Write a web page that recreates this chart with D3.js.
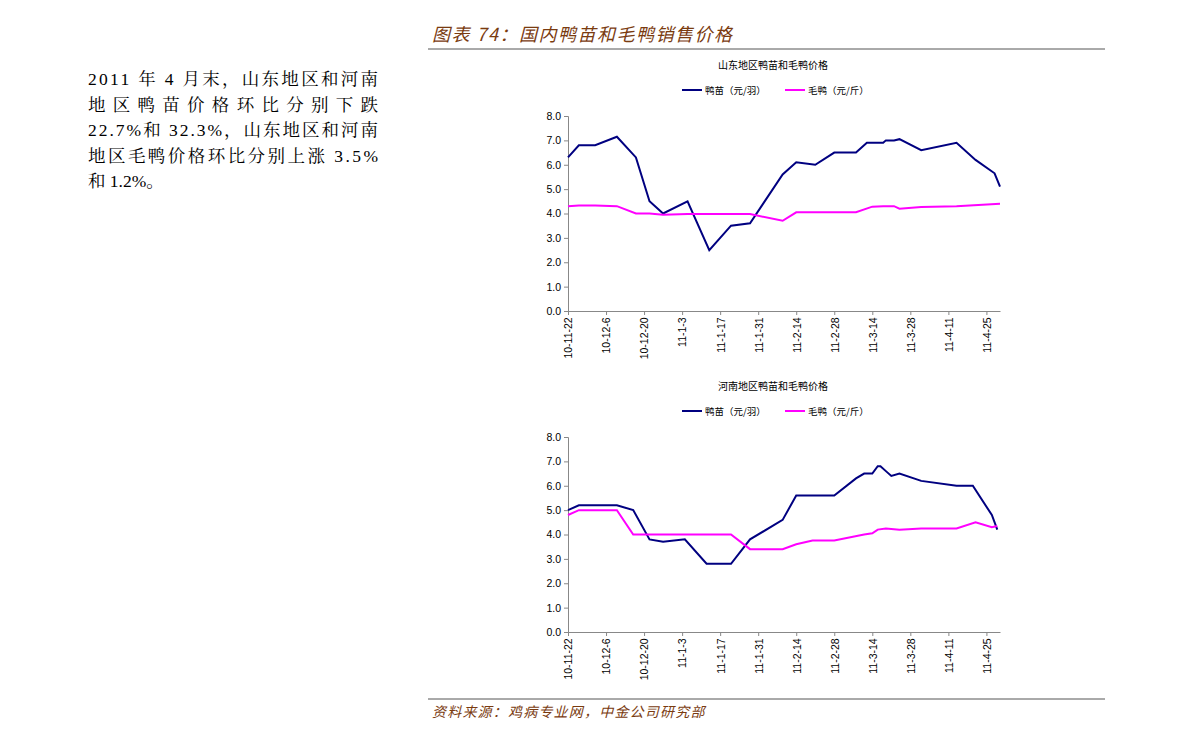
<!DOCTYPE html>
<html><head><meta charset="utf-8">
<script src="https://cdn.jsdelivr.net/npm/d3@7"></script>
<style>body{margin:0;background:#fff}</style></head>
<body><svg id="c" width="1191" height="740"></svg>
<script>
const startDate = "2010-11-22";
const tickLabels = ["10-11-22","10-12-6","10-12-20","11-1-3","11-1-17","11-1-31","11-2-14","11-2-28","11-3-14","11-3-28","11-4-11","11-4-25"];
const yTicks = [0,1,2,3,4,5,6,7,8];
const seriesNames = ["鸭苗（元/羽）","毛鸭（元/斤）"];
const chartTitles = ["山东地区鸭苗和毛鸭价格","河南地区鸭苗和毛鸭价格"];
// days since start date
const sdSeedDays = [0,4,10,18,25,30,35,44,52,60,67,79,84,91,98,106,110,116,117,120,122,130,143,150,157,159];
const sdSeedVals = [6.3,6.8,6.8,7.15,6.3,4.5,4.0,4.5,2.5,3.5,3.6,5.6,6.1,6.0,6.5,6.5,6.9,6.9,7.0,7.0,7.05,6.6,6.9,6.2,5.65,5.1];
const sdDuckDays = [0,4,10,18,25,30,35,44,67,79,84,106,112,116,120,122,130,143,151,159];
const sdDuckVals = [4.3,4.33,4.33,4.3,4.0,4.0,3.95,3.98,3.98,3.7,4.05,4.05,4.28,4.3,4.3,4.2,4.27,4.3,4.35,4.4];
const hnSeedDays = [0,4,18,24,30,35,43,51,60,67,79,84,98,106,109,112,114,115,117,119,122,130,143,149,156,158];
const hnSeedVals = [5.0,5.2,5.2,5.0,3.8,3.7,3.8,2.8,2.8,3.8,4.6,5.6,5.6,6.3,6.5,6.5,6.8,6.8,6.6,6.4,6.5,6.2,6.0,6.0,4.8,4.2];
const hnDuckDays = [0,4,18,24,60,67,79,84,90,98,109,112,114,117,122,130,143,150,156,158];
const hnDuckVals = [4.8,5.0,5.0,4.0,4.0,3.4,3.4,3.6,3.75,3.75,4.0,4.05,4.2,4.25,4.2,4.25,4.25,4.5,4.3,4.35];
const paraLines = ["2011 年 4 月末，山东地区和河南","地 区 鸭 苗 价 格 环 比 分 别 下 跌","22.7%和  32.3%，山东地区和河南","地区毛鸭价格环比分别上涨  3.5%","和 1.2%。"];

const svg = d3.select("#c");
const t0 = d3.timeParse("%Y-%m-%d")(startDate);
const toDate = n => d3.timeDay.offset(t0, n);
const brown = "#7a3b10";
svg.append("text").attr("x",432).attr("y",41).attr("fill",brown).attr("font-size",18).attr("letter-spacing",1.5)
  .attr("font-style","italic").attr("font-family","'Noto Sans CJK SC',sans-serif").text("图表 74：国内鸭苗和毛鸭销售价格");
svg.append("line").attr("x1",428).attr("x2",1105).attr("y1",49).attr("y2",49).attr("stroke","#555");
svg.append("line").attr("x1",428).attr("x2",1105).attr("y1",699).attr("y2",699).attr("stroke","#555");
svg.append("text").attr("x",432).attr("y",717).attr("fill",brown).attr("font-size",14).attr("letter-spacing",1.2)
  .attr("font-style","italic").attr("font-family","'Noto Sans CJK SC',sans-serif").text("资料来源：鸡病专业网，中金公司研究部");
paraLines.forEach((l,i)=>svg.append("text").attr("x",88).attr("y",85+i*25.5).attr("font-size",17.5)
  .attr("font-family","'Liberation Serif','Noto Serif CJK SC','Noto Sans CJK SC',serif").attr("textLength", i<4?290:null).text(l));

function chart(top, title, seed, duck){
  const x = d3.scaleTime().domain([toDate(0), toDate(159)]).range([568,1000]);
  const y = d3.scaleLinear().domain([0,8]).range([top+195, top]);
  const g = svg.append("g");
  g.append("text").attr("x",773).attr("y",top-47).attr("text-anchor","middle").attr("font-size",10)
    .attr("font-family","'Noto Sans CJK SC',sans-serif").text(title);
  const cols = ["#000080","#ff00ff"];
  [[682,705],[785,808]].forEach((p,i)=>{
    g.append("line").attr("x1",p[0]).attr("x2",p[0]+20).attr("y1",top-26).attr("y2",top-26).attr("stroke",cols[i]).attr("stroke-width",2);
    g.append("text").attr("x",p[1]).attr("y",top-22).attr("font-size",9.5).attr("font-family","'Noto Sans CJK SC',sans-serif").text(seriesNames[i]);
  });
  const ya = g.append("g").attr("transform","translate(568,0)")
    .call(d3.axisLeft(y).tickValues(yTicks).tickFormat(d3.format(".1f")).tickSize(4));
  ya.selectAll("text").attr("font-size",10.5).attr("font-family","'Liberation Sans',Arial").attr("fill","#000");
  ya.selectAll("path,line").attr("stroke","#888");
  const tv = tickLabels.map((_,i)=>toDate(i*14));
  const xa = g.append("g").attr("transform",`translate(0,${top+195})`)
    .call(d3.axisBottom(x).tickValues(tv).tickFormat((d,i)=>tickLabels[i]).tickSize(4).tickSizeOuter(0));
  xa.selectAll("path,line").attr("stroke","#888");
  xa.selectAll("text").attr("font-size",10.5).attr("font-family","'Liberation Sans',Arial").attr("fill","#000")
    .attr("transform","rotate(-90)").attr("text-anchor","end").attr("dx","-0.6em").attr("dy","-0.3em");
  const ln = d3.line().x(d=>x(toDate(d[0]))).y(d=>y(d[1]));
  [seed,duck].forEach((s,i)=>g.append("path").attr("d",ln(s[0].map((d,j)=>[d,s[1][j]])))
    .attr("fill","none").attr("stroke",cols[i]).attr("stroke-width",2));
}
chart(116, chartTitles[0], [sdSeedDays,sdSeedVals],[sdDuckDays,sdDuckVals]);
chart(437, chartTitles[1], [hnSeedDays,hnSeedVals],[hnDuckDays,hnDuckVals]);
</script></body></html>
